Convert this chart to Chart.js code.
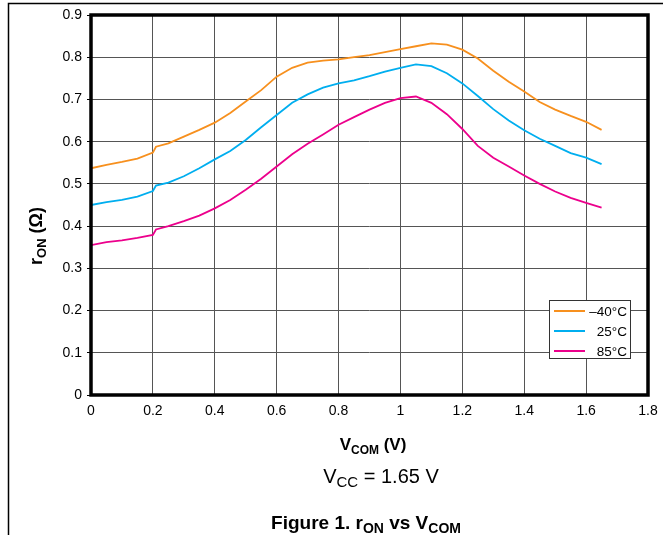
<!DOCTYPE html>
<html>
<head>
<meta charset="utf-8">
<script src="https://cdn.jsdelivr.net/npm/chart.js@4.4.0/dist/chart.umd.min.js"></script>
<style>
  html, body { margin: 0; padding: 0; background: #fff; }
  #wrap { width: 663px; height: 535px; position: relative; }
</style>
</head>
<body>
<div id="wrap"><canvas id="ron_chart"></canvas></div>
<script>
// V_COM sweep (V)
const vcom = [0, 0.05, 0.1, 0.15, 0.2, 0.21, 0.25, 0.3, 0.35, 0.4, 0.45, 0.5, 0.55, 0.6,
  0.65, 0.7, 0.75, 0.8, 0.85, 0.9, 0.95, 1.0, 1.05, 1.1, 1.15, 1.2, 1.25, 1.3, 1.35,
  1.4, 1.45, 1.5, 1.55, 1.6, 1.65];

// r_ON (ohm) per temperature
const ronMinus40 = [0.537, 0.545, 0.552, 0.560, 0.574, 0.588, 0.596, 0.612, 0.628, 0.645,
  0.668, 0.695, 0.722, 0.754, 0.775, 0.787, 0.792, 0.795, 0.800, 0.805, 0.812, 0.819,
  0.826, 0.833, 0.830, 0.818, 0.797, 0.768, 0.742, 0.719, 0.694, 0.676, 0.661, 0.647, 0.628];
const ron25 = [0.450, 0.457, 0.462, 0.470, 0.483, 0.496, 0.503, 0.518, 0.537, 0.558,
  0.578, 0.604, 0.634, 0.663, 0.692, 0.712, 0.728, 0.738, 0.745, 0.755, 0.766, 0.775,
  0.783, 0.779, 0.762, 0.738, 0.708, 0.677, 0.650, 0.627, 0.607, 0.590, 0.573, 0.562, 0.547];
const ron85 = [0.355, 0.362, 0.366, 0.372, 0.379, 0.392, 0.400, 0.412, 0.425, 0.442,
  0.462, 0.486, 0.512, 0.541, 0.570, 0.595, 0.617, 0.640, 0.658, 0.676, 0.692, 0.703,
  0.707, 0.692, 0.665, 0.630, 0.590, 0.562, 0.541, 0.520, 0.500, 0.482, 0.467, 0.455, 0.444];

const seriesLabels = ["\u201340\u00b0C", "25\u00b0C", "85\u00b0C"];
const seriesColors = ["#f7901e", "#00aeef", "#ec008c"];

const FONT = "'Liberation Sans', Arial, Helvetica, sans-serif";

function toPoints(ys) {
  return vcom.map(function (x, i) { return { x: x, y: ys[i] }; });
}

function fmt(v) {
  return String(Number(v.toFixed(1)));
}

// draws text made of normal + subscript parts, aligned around x
function drawParts(ctx, parts, x, y, size, subSize, bold, align) {
  let w = 0;
  parts.forEach(function (p) {
    ctx.font = (bold ? "bold " : "") + (p.sub ? subSize : size) + "px " + FONT;
    p.w = ctx.measureText(p.t).width;
    w += p.w;
  });
  let cx = align === "center" ? x - w / 2 : x;
  ctx.textAlign = "left";
  ctx.textBaseline = "alphabetic";
  parts.forEach(function (p) {
    ctx.font = (bold ? "bold " : "") + (p.sub ? subSize : size) + "px " + FONT;
    ctx.fillText(p.t, cx, p.sub ? y + 4 : y);
    cx += p.w;
  });
}

const decorPlugin = {
  id: "decor",
  afterDraw: function (chart) {
    const ctx = chart.ctx;
    const a = chart.chartArea;
    ctx.save();

    // outer figure frame (top and left)
    ctx.strokeStyle = "#000";
    ctx.lineWidth = 1.5;
    ctx.beginPath();
    ctx.moveTo(663, 3.5);
    ctx.lineTo(8.5, 3.5);
    ctx.lineTo(8.5, 535);
    ctx.stroke();

    // heavy plot border
    ctx.lineWidth = 3.5;
    ctx.strokeRect(a.left, a.top, a.right - a.left, a.bottom - a.top);

    // legend
    const lx = 549.5, ly = 300.5, lw = 81, lh = 58;
    ctx.fillStyle = "#fff";
    ctx.fillRect(lx, ly, lw, lh);
    ctx.strokeStyle = "#333";
    ctx.lineWidth = 1;
    ctx.strokeRect(lx, ly, lw, lh);
    ctx.font = "13.5px " + FONT;
    ctx.textAlign = "right";
    ctx.textBaseline = "middle";
    seriesLabels.forEach(function (lab, i) {
      const yy = 311 + i * 20;
      ctx.strokeStyle = seriesColors[i];
      ctx.lineWidth = 2;
      ctx.beginPath();
      ctx.moveTo(554, yy);
      ctx.lineTo(585, yy);
      ctx.stroke();
      ctx.fillStyle = "#000";
      ctx.fillText(lab, 627, yy + 1);
    });

    ctx.fillStyle = "#000";
    // x axis title
    drawParts(ctx, [{ t: "V" }, { t: "COM", sub: true }, { t: " (V)" }],
      373, 450, 17, 12, true, "center");
    // condition
    drawParts(ctx, [{ t: "V" }, { t: "CC", sub: true }, { t: " = 1.65 V" }],
      381, 483, 20, 15, false, "center");
    // caption
    drawParts(ctx, [{ t: "Figure 1. r" }, { t: "ON", sub: true }, { t: " vs V" }, { t: "COM", sub: true }],
      366, 529, 19, 14, true, "center");

    // y axis title (rotated)
    ctx.translate(42, 236);
    ctx.rotate(-Math.PI / 2);
    drawParts(ctx, [{ t: "r" }, { t: "ON", sub: true }, { t: " (\u03a9)" }],
      0, 0, 18, 13, true, "center");

    ctx.restore();
  },
};

function init() {
  const ctx = document.getElementById("ron_chart");
  const datasets = [ronMinus40, ron25, ron85].map(function (ys, i) {
    return {
      label: seriesLabels[i],
      data: toPoints(ys),
      borderColor: seriesColors[i],
      backgroundColor: seriesColors[i],
      borderWidth: 1.8,
      pointRadius: 0,
      tension: 0,
      fill: false,
    };
  });

  new Chart(ctx, {
    type: "line",
    data: { datasets: datasets },
    plugins: [decorPlugin],
    options: {
      responsive: false,
      animation: false,
      layout: { padding: { left: 0, top: 15, right: 15, bottom: 110 } },
      plugins: { legend: { display: false }, tooltip: { enabled: false } },
      scales: {
        x: {
          type: "linear",
          min: 0,
          max: 1.8,
          ticks: { stepSize: 0.2, color: "#000", padding: 8, maxRotation: 0,
            font: { family: FONT, size: 14 }, callback: fmt },
          grid: { color: "#555", lineWidth: 1, drawTicks: false },
          border: { display: false },
          afterFit: function (s) {
            s.height = 30;
            s.paddingLeft = 0;
            s.paddingRight = 0;
          },
        },
        y: {
          min: 0,
          max: 0.9,
          ticks: { stepSize: 0.1, color: "#000", padding: 5,
            font: { family: FONT, size: 14 }, callback: fmt },
          grid: { color: "#555", lineWidth: 1, tickLength: 4, tickColor: "#000" },
          border: { display: false },
          afterFit: function (s) {
            s.width = 91;
            s.paddingTop = 0;
            s.paddingBottom = 0;
          },
        },
      },
    },
  });
}

document.getElementById("ron_chart").width = 663;
document.getElementById("ron_chart").height = 535;
init();
</script>
</body>
</html>
